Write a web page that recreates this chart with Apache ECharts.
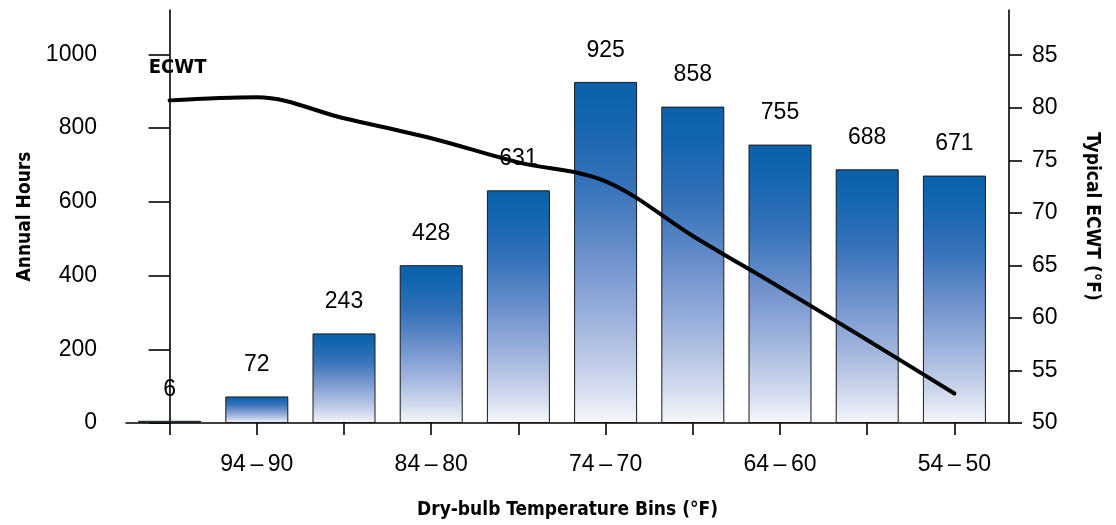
<!DOCTYPE html>
<html>
<head>
<meta charset="utf-8">
<script src="https://cdn.jsdelivr.net/npm/echarts@6/dist/echarts.min.js"></script>
<style>
html,body{margin:0;padding:0;background:#fff;}
#chart{width:1116px;height:525px;}
</style>
</head>
<body>
<div id="chart"></div>
<script>
// Data
const categories = ['99\u2009\u2013\u200995', '94\u2009\u2013\u200990', '89\u2009\u2013\u200985', '84\u2009\u2013\u200980', '79\u2009\u2013\u200975', '74\u2009\u2013\u200970', '69\u2009\u2013\u200965', '64\u2009\u2013\u200960', '59\u2009\u2013\u200955', '54\u2009\u2013\u200950'];
const annualHours = [6, 72, 243, 428, 631, 925, 858, 755, 688, 671];
const ecwt = [80.7, 81.0, 79.0, 77.1, 74.8, 73.0, 67.8, 62.9, 57.9, 52.8];
const leftTicks = [0, 200, 400, 600, 800, 1000];
const rightTicks = [50, 55, 60, 65, 70, 75, 80, 85];
const labeledCategoryIdx = [1, 3, 5, 7, 9];
const seriesLabel = 'ECWT';

const FONT = "'Liberation Sans', Arial, Helvetica, sans-serif";
const NARROW = "'Liberation Sans Narrow', 'DejaVu Sans Condensed', 'Liberation Sans', Arial, sans-serif";

const chart = echarts.init(document.getElementById('chart'), null, {renderer: 'canvas'});

const barGradient = new echarts.graphic.LinearGradient(0, 0, 0, 1, [
  {offset: 0, color: '#0a60aa'},
  {offset: 0.12, color: '#1566b0'},
  {offset: 0.3, color: '#3572b9'},
  {offset: 0.5, color: '#6a8fcb'},
  {offset: 0.72, color: '#a3b6de'},
  {offset: 0.9, color: '#d5ddef'},
  {offset: 1, color: '#f6f7fb'}
]);

const axisLineStyle = {color: '#000', width: 1.6};

chart.setOption({
  animation: false,
  backgroundColor: '#fff',
  grid: {left: 126, right: 107, top: 10, bottom: 101, containLabel: false},
  xAxis: {
    type: 'value',
    min: -0.5,
    max: 9.626,
    splitLine: {show: false},
    axisLine: {show: true, onZero: false, lineStyle: axisLineStyle},
    axisTick: {show: true, length: 12, lineStyle: axisLineStyle, customValues: categories.map((c, i) => i)},
    axisLabel: {
      show: true,
      customValues: labeledCategoryIdx,
      formatter: v => categories[Math.round(v)],
      margin: 30,
      fontFamily: FONT,
      fontSize: 23,
      color: '#000'
    },
    name: 'Dry-bulb Temperature Bins (\u00B0F)',
    nameLocation: 'middle',
    nameGap: 78,
    nameTextStyle: {fontFamily: NARROW, fontWeight: 'bold', fontSize: 19, color: '#000'}
  },
  yAxis: [
    {
      type: 'value',
      position: 'left',
      min: 0,
      max: 1120,
      splitLine: {show: false},
      axisLine: {show: true, lineStyle: axisLineStyle},
      axisTick: {show: true, length: 21, lineStyle: axisLineStyle, customValues: leftTicks},
      axisLabel: {customValues: leftTicks, formatter: v => String(v), margin: 29, fontFamily: FONT, fontSize: 23, color: '#000'},
      name: 'Annual Hours',
      nameLocation: 'middle',
      nameGap: 89,
      nameRotate: 90,
      nameTextStyle: {fontFamily: NARROW, fontWeight: 'bold', fontSize: 19, color: '#000'}
    },
    {
      type: 'value',
      position: 'right',
      min: 50,
      max: 89.3,
      splitLine: {show: false},
      axisLine: {show: true, lineStyle: axisLineStyle},
      axisTick: {show: true, length: 13, lineStyle: axisLineStyle, customValues: rightTicks},
      axisLabel: {customValues: rightTicks, formatter: v => String(v), margin: 23, fontFamily: FONT, fontSize: 23, color: '#000'},
      name: 'Typical ECWT (\u00B0F)',
      nameLocation: 'middle',
      nameGap: 73,
      nameRotate: -90,
      nameTextStyle: {fontFamily: NARROW, fontWeight: 'bold', fontSize: 19, color: '#000'}
    }
  ],
  series: [
    {
      type: 'bar',
      xAxisIndex: 0,
      yAxisIndex: 0,
      barWidth: 63,
      data: annualHours.map((v, i) => [i, v]),
      itemStyle: {color: barGradient, borderColor: '#1a1a1a', borderWidth: 1},
      label: {
        show: true,
        position: 'top',
        distance: 20,
        formatter: p => p.value[1],
        fontFamily: FONT,
        fontSize: 23,
        color: '#000'
      },
      z: 2
    },
    {
      type: 'line',
      xAxisIndex: 0,
      yAxisIndex: 1,
      smooth: 0.35,
      symbol: 'circle',
      symbolSize: 1,
      showSymbol: true,
      itemStyle: {color: 'rgba(0,0,0,0)'},
      lineStyle: {color: '#000', width: 4, cap: 'round'},
      data: ecwt.map((v, i) => i === 0 ? {value: [i, v], label: {show: true}} : [i, v]),
      label: {
        show: false,
        position: 'top',
        distance: 22,
        offset: [8, 0],
        formatter: () => seriesLabel,
        fontFamily: NARROW,
        fontWeight: 'bold',
        fontSize: 20,
        color: '#000'
      },
      emphasis: {disabled: true},
      z: 5
    }
  ]
});
</script>
</body>
</html>
